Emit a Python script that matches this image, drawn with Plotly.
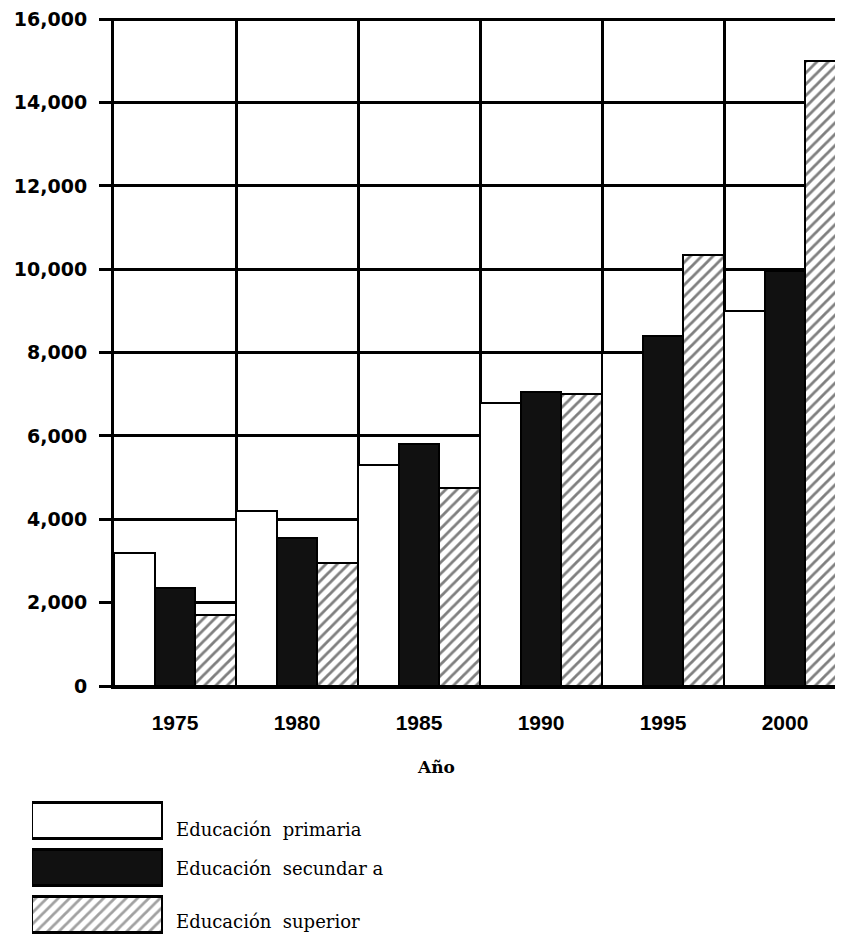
import plotly.graph_objects as go

# ---- data ----
years = ["1975", "1980", "1985", "1990", "1995", "2000"]
primaria = [3200, 4200, 5300, 6800, 8000, 9000]
secundaria = [2350, 3550, 5800, 7050, 8400, 9950]
superior = [1700, 2950, 4750, 7000, 10350, 15000]
series_names = ["Educación  primaria", "Educación  secundar a", "Educación  superior"]
y_ticks = [0, 2000, 4000, 6000, 8000, 10000, 12000, 14000, 16000]
x_title = "Año"

# the page body adds an 8 px margin, so the figure is drawn 8 px smaller
OFF = 8
W, H = 843 - OFF, 936 - OFF
T, B = 18 - OFF, 0
inner_h = H - T - B


def py(pixel_y):
    """reference pixel row -> paper fraction"""
    return (H - (pixel_y - OFF) - B) / inner_h


def px(pixel_x):
    """reference pixel column -> paper fraction"""
    return (pixel_x - OFF) / W


fig = go.Figure()

edge = dict(color="black", width=2)
hatch = dict(shape="/", fgcolor="black", bgcolor="white", size=8, solidity=0.35)
fig.add_trace(go.Bar(x=years, y=primaria, name=series_names[0],
                     marker=dict(color="white", line=edge), hoverinfo="skip"))
fig.add_trace(go.Bar(x=years, y=secundaria, name=series_names[1],
                     marker=dict(color="#111111", line=edge), hoverinfo="skip"))
fig.add_trace(go.Bar(x=years, y=superior, name=series_names[2],
                     marker=dict(color="white", line=edge, pattern=hatch),
                     hoverinfo="skip"))

# legend key drawn as a small horizontal bar chart
legend_fill = ["white", "#111111", "white"]
legend_shape = ["", "", "/"]
fig.add_trace(go.Bar(
    x=[1, 1, 1], y=series_names, orientation="h", width=0.78,
    xaxis="x2", yaxis="y2", hoverinfo="skip",
    marker=dict(color=legend_fill, line=dict(color="black", width=3),
                pattern=dict(shape=legend_shape, fgcolor="black", bgcolor="white",
                             size=8, solidity=0.35)),
))

label_shift = [-8, 0, -7]
annotations = []
for name, dy in zip(series_names, label_shift):
    annotations.append(dict(x=1, y=name, xref="x2", yref="y2", text=name,
                            showarrow=False, xanchor="left", yanchor="middle",
                            xshift=11, yshift=dy,
                            font=dict(family="DejaVu Serif", size=18, color="black")))
annotations.append(dict(x=px(436), y=py(767), xref="paper", yref="paper",
                        text=f"<b>{x_title}</b>", showarrow=False,
                        xanchor="center", yanchor="middle",
                        font=dict(family="DejaVu Serif", size=17, color="black")))

fig.update_layout(
    width=W, height=H,
    margin=dict(l=0, r=0, t=T, b=B),
    paper_bgcolor="white", plot_bgcolor="white",
    barmode="group", bargap=0, bargroupgap=0,
    showlegend=False,
    annotations=annotations,
    xaxis=dict(type="category", domain=[px(114), 1], range=[-0.5, 5.475],
               tickson="boundaries", showgrid=True, gridcolor="black", gridwidth=3,
               ticks="", showline=True, linecolor="black", linewidth=3,
               ticklabelstandoff=16, automargin=False, fixedrange=True,
               tickfont=dict(family="Liberation Sans", size=21, color="black", weight="bold"),
               anchor="y"),
    yaxis=dict(domain=[py(686), 1], range=[0, 16030], tickvals=y_ticks,
               tickformat=",", showgrid=True, gridcolor="black", gridwidth=3,
               zeroline=True, zerolinecolor="black", zerolinewidth=3,
               showline=True, linecolor="black", linewidth=3,
               ticks="outside", ticklen=12, tickwidth=3, tickcolor="black",
               ticklabelstandoff=8, ticklabeloverflow="allow",
               automargin=False, fixedrange=True,
               tickfont=dict(family="DejaVu Sans", size=19, color="black", weight="bold"),
               anchor="x"),
    xaxis2=dict(domain=[px(32), px(163)], range=[0, 1], visible=False,
                anchor="y2", fixedrange=True),
    yaxis2=dict(domain=[0, py(800)], range=[2.447, -0.447],
                type="category", visible=False, anchor="x2", fixedrange=True),
)

fig.write_html("out.html", config={"displayModeBar": False})
